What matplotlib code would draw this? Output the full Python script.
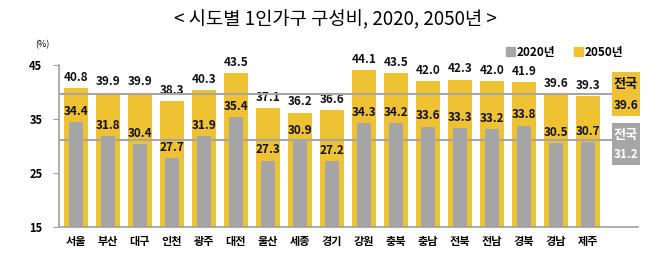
import numpy as np
import matplotlib
matplotlib.use('Agg')
from matplotlib import pyplot as plt
from matplotlib.patches import Patch

plt.rcParams['font.family'] = ['Noto Sans CJK KR', 'DejaVu Sans']

regions = ['서울', '부산', '대구', '인천', '광주', '대전', '울산', '세종', '경기',
           '강원', '충북', '충남', '전북', '전남', '경북', '경남', '제주']
share_2020 = [34.4, 31.8, 30.4, 27.7, 31.9, 35.4, 27.3, 30.9, 27.2,
              34.3, 34.2, 33.6, 33.3, 33.2, 33.8, 30.5, 30.7]
share_2050 = [40.8, 39.9, 39.9, 38.3, 40.3, 43.5, 37.1, 36.2, 36.6,
              44.1, 43.5, 42.0, 42.3, 42.0, 41.9, 39.6, 39.3]
nation_2020 = 31.2
nation_2050 = 39.6
yticks = [15, 25, 35, 45]

yellow = '#EEC232'
gray = '#A6A6A6'
axis_gray = '#A0A0A0'

fig = plt.figure(figsize=(6.7, 2.7), dpi=100)
ax = fig.add_axes([0.088, 0.159, 0.864, 0.60])

x = np.arange(len(regions))
ax.bar(x, share_2050, width=0.76, color=yellow, zorder=1)
ax.bar(x, share_2020, width=0.42, color=gray, zorder=2)

for xi, v in zip(x, share_2050):
    ax.annotate(f'{v:.1f}', (xi, v), xytext=(0, 3), textcoords='offset points',
                ha='center', va='bottom', fontsize=8.5, fontweight='bold',
                color='#111111', clip_on=False)
for xi, v in zip(x, share_2020):
    ax.annotate(f'{v:.1f}', (xi, v), xytext=(0, 3), textcoords='offset points',
                ha='center', va='bottom', fontsize=8.5, fontweight='bold',
                color='#111111')

# national average lines
box_x = 17.19
box_w = 0.9
ax.hlines([nation_2050, nation_2020], -0.53, box_x - box_w / 2,
          color=gray, lw=1.5, zorder=3)

# national boxes
ax.bar(box_x, 43.7 - 35.56, bottom=35.56, width=box_w, color=yellow,
       clip_on=False, zorder=3)
ax.bar(box_x, 34.26 - 26.48, bottom=26.48, width=box_w, color=gray,
       clip_on=False, zorder=3)
ax.text(box_x, 41.5, '전국', ha='center', va='center', fontsize=9.5,
        fontweight='bold', color='#111111', clip_on=False)
ax.text(box_x, 37.6, f'{nation_2050:.1f}', ha='center', va='center',
        fontsize=8.5, fontweight='bold', color='#111111', clip_on=False)
ax.text(box_x, 32.1, '전국', ha='center', va='center', fontsize=9.5,
        fontweight='bold', color='white', clip_on=False)
ax.text(box_x, 28.4, f'{nation_2020:.1f}', ha='center', va='center',
        fontsize=8.5, fontweight='bold', color='white', clip_on=False)

ax.set_xlim(-0.53, 17.56)
ax.set_ylim(15, 45)
ax.set_yticks(yticks)
ax.set_yticklabels([str(t) for t in yticks], fontsize=8, fontweight='bold')
ax.set_xticks(x)
ax.set_xticklabels(regions, fontsize=8, fontweight='bold')
ax.tick_params(axis='x', length=0, pad=6)
ax.tick_params(axis='y', length=4, color=axis_gray, pad=8)
for s in ['top', 'right']:
    ax.spines[s].set_visible(False)
for s in ['left', 'bottom']:
    ax.spines[s].set_color(axis_gray)
    ax.spines[s].set_linewidth(1.2)

fig.text(0.5, 1 - 20 / 270, '< 시도별 1인가구 구성비, 2020, 2050년 >',
         ha='center', va='center', fontsize=13.5)
fig.text(42 / 670, 1 - 45 / 270, '(%)', ha='center', va='center', fontsize=6.5)

handles = [Patch(color=gray, label='2020년'), Patch(color=yellow, label='2050년')]
fig.legend(handles=handles, loc='center', bbox_to_anchor=(565 / 670, 1 - 52 / 270),
           ncol=2, frameon=False, handlelength=0.7, handleheight=0.7,
           handletextpad=0.2, columnspacing=1.6,
           prop={'size': 8.5, 'weight': 'bold'})

fig.savefig('out.png', dpi=100)
